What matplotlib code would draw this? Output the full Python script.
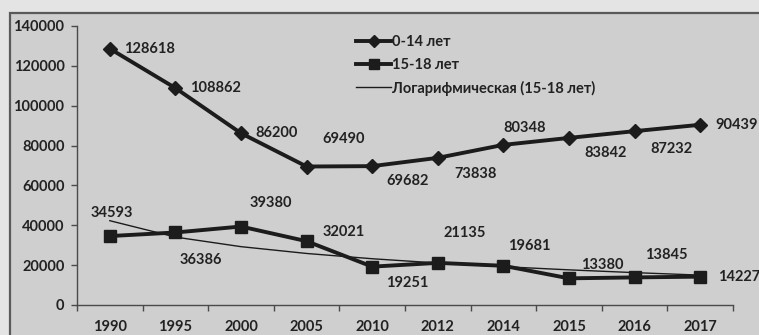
import numpy as np
import matplotlib
matplotlib.use('Agg')
import matplotlib.pyplot as plt
from matplotlib.patches import Rectangle

plt.rcParams['font.family'] = ['Lato', 'DejaVu Sans']

years = ['1990', '1995', '2000', '2005', '2010', '2012', '2014', '2015', '2016', '2017']
kids_0_14 = [128618, 108862, 86200, 69490, 69682, 73838, 80348, 83842, 87232, 90439]
teens_15_18 = [34593, 36386, 39380, 32021, 19251, 21135, 19681, 13380, 13845, 14227]

# label offsets in pixels (dx, dy), placed roughly like Excel's data labels
off_kids = [(40, 0), (40, 0), (36, 0), (37, 28), (35, -15),
            (38, -16), (21, 17), (37, -15), (37, -18), (36, 0)]
off_teens = [(2, 23), (25, -28), (30, 24), (37, 9), (35, -16),
             (27, 30), (26, 20), (33, 13), (32, 22), (39, 0)]

W, H = 759, 335
fig = plt.figure(figsize=(W / 100, H / 100), dpi=100)
fig.patch.set_facecolor('#e4e4e4')

# chart frame
fig.add_artist(Rectangle((10 / W, -0.1), 1.2, 1 - 13 / H + 0.1,
                         transform=fig.transFigure, facecolor='#cfcfcf',
                         edgecolor='#5a5a5a', lw=1.6, zorder=0))

ax = fig.add_axes([77 / W, 1 - 305 / H, (733 - 77) / W, (305 - 26) / H])
ax.set_facecolor('none')

x = np.arange(len(years))
ink = '#1c1c1c'
fs = 10.5

ax.plot(x, kids_0_14, '-', color=ink, lw=2.8, marker='D', ms=7,
        label='0-14 лет', zorder=3)
ax.plot(x, teens_15_18, '-', color=ink, lw=2.8, marker='s', ms=9,
        label='15-18 лет', zorder=3)

# logarithmic trend (Excel style: y = a*ln(n) + b, n = 1..N)
n = x + 1
a, b = np.polyfit(np.log(n), teens_15_18, 1)
ax.plot(x, a * np.log(n) + b, '-', color=ink, lw=1.0,
        label='Логарифмическая (15-18 лет)', zorder=2)

lab_kw = dict(textcoords='offset points', ha='center', va='center',
              fontsize=fs, color='#222222', fontweight='bold')
for xi, v, (dx, dy) in zip(x, kids_0_14, off_kids):
    ax.annotate(str(v), (xi, v), xytext=(dx * 0.72, dy * 0.72), **lab_kw)
for xi, v, (dx, dy) in zip(x, teens_15_18, off_teens):
    ax.annotate(str(v), (xi, v), xytext=(dx * 0.72, dy * 0.72), **lab_kw)

ax.set_xlim(-0.5, len(years) - 0.5)
ax.set_ylim(0, 140000)
ax.set_yticks(np.arange(0, 140001, 20000))
ax.set_xticks(x)
ax.set_xticklabels(years)
ax.set_xticks(np.arange(-0.5, len(years)), minor=True)

for s in ['top', 'right']:
    ax.spines[s].set_visible(False)
for s in ['left', 'bottom']:
    ax.spines[s].set_color('#4a4a4a')
    ax.spines[s].set_linewidth(1.0)

ax.tick_params(axis='y', direction='out', length=4, width=1, color='#4a4a4a',
               pad=5, labelsize=fs, labelcolor='#222222')
ax.tick_params(axis='x', which='major', length=0, pad=11, labelsize=fs,
               labelcolor='#222222')
ax.tick_params(axis='x', which='minor', direction='out', length=4, width=1,
               color='#4a4a4a')
for t in ax.get_xticklabels() + ax.get_yticklabels():
    t.set_fontweight('bold')

leg = ax.legend(loc='upper left', bbox_to_anchor=(356 / W, 1 - 35 / H),
                bbox_transform=fig.transFigure, frameon=False, fontsize=fs,
                handlelength=2.4, handletextpad=0.1, labelspacing=0.6,
                borderpad=0, borderaxespad=0, markerscale=0.85)
for t in leg.get_texts():
    t.set_color('#222222')
    t.set_fontweight('bold')

fig.savefig('out.png', dpi=100, facecolor=fig.get_facecolor())
